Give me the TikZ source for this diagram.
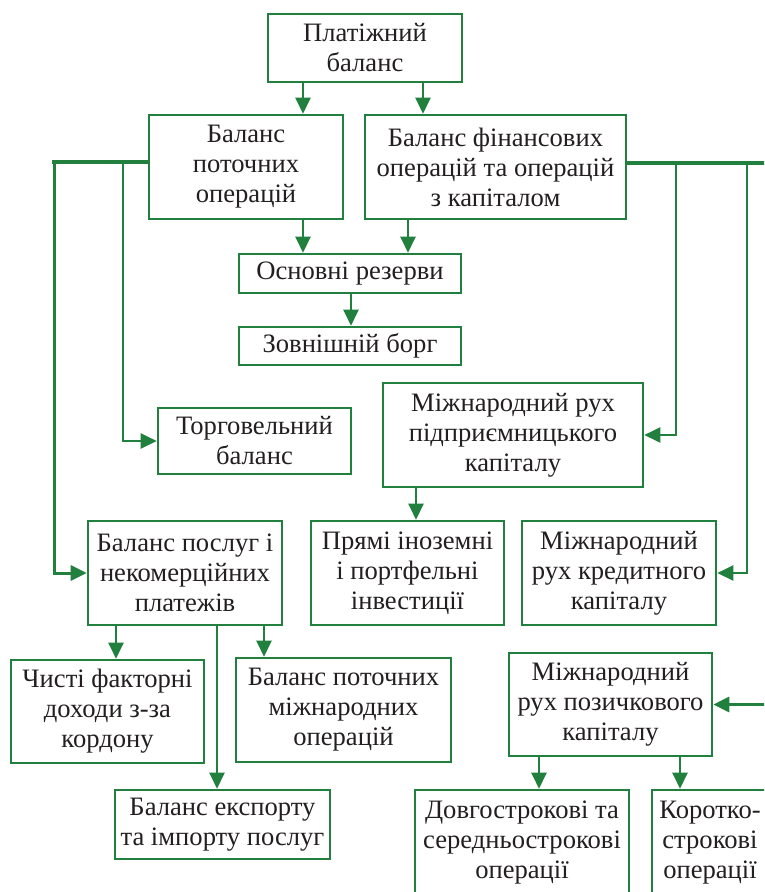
\documentclass[tikz,border=0pt]{standalone}
\usepackage{fontspec}
\setmainfont{Liberation Serif}
\usetikzlibrary{arrows.meta}
\definecolor{gr}{RGB}{34,128,62}
\definecolor{txt}{RGB}{35,31,32}
\begin{document}
\begin{tikzpicture}[x=1pt,y=-1pt,
  box/.style={draw=gr,line width=2.6pt,align=center,inner sep=0pt,text=txt,
    font=\fontsize{26.6}{30}\selectfont},
  arr/.style={draw=gr,line width=2.4pt,-{Triangle[length=16pt,width=15pt]}},
  trunk/.style={draw=gr,line width=3.2pt},
]
\clip (0,0) rectangle (764,892);
\fill[white] (0,0) rectangle (764,892);

\node[box,minimum width=194pt,minimum height=68pt] (pb) at (365,48) {Платіжний\\баланс};
\node[box,minimum width=194pt,minimum height=104pt] (bpo) at (246,167) {Баланс\\поточних\\операцій};
\node[box,minimum width=261pt,minimum height=104pt] (bfo) at (495.5,167) {Баланс фінансових\\операцій та операцій\\з капіталом};
\node[box,minimum width=222pt,minimum height=39pt] (or) at (350,273.5) {Основні резерви};
\node[box,minimum width=222pt,minimum height=38pt] (zb) at (350,346) {Зовнішній борг};
\node[box,minimum width=193pt,minimum height=66pt] (tb) at (254.5,441) {Торговельний\\баланс};
\node[box,minimum width=260pt,minimum height=104pt] (mpk) at (513,435) {Міжнародний рух\\підприємницького\\капіталу};
\node[box,minimum width=194pt,minimum height=104pt] (bpn) at (185,573) {Баланс послуг і\\некомерційних\\платежів};
\node[box,minimum width=193pt,minimum height=104pt] (pii) at (407.5,573) {Прямі іноземні\\і портфельні\\інвестиції};
\node[box,minimum width=194pt,minimum height=104pt] (mkk) at (619,573) {Міжнародний\\рух кредитного\\капіталу};
\node[box,minimum width=193pt,minimum height=103pt] (chf) at (107.5,711.5) {Чисті факторні\\доходи з-за\\кордону};
\node[box,minimum width=215pt,minimum height=104pt] (bpm) at (343.5,710) {Баланс поточних\\міжнародних\\операцій};
\node[box,minimum width=203pt,minimum height=103pt] (mpoz) at (610.5,704.5) {Міжнародний\\рух позичкового\\капіталу};
\node[box,minimum width=215pt,minimum height=69pt] (bei) at (222.5,824.5) {Баланс експорту\\та імпорту послуг};
\node[box,minimum width=214pt,minimum height=106pt] (dso) at (522,843) {Довгострокові та\\середньострокові\\операції};
\node[box,minimum width=116pt,minimum height=106pt] (kso) at (710,843) {Коротко-\\строкові\\операції};

% vertical arrows
\draw[arr] (303,0 |- pb.south) -- (303,0 |- bpo.north);
\draw[arr] (423,0 |- pb.south) -- (423,0 |- bfo.north);
\draw[arr] (303,0 |- bpo.south) -- (303,0 |- or.north);
\draw[arr] (408,0 |- bfo.south) -- (408,0 |- or.north);
\draw[arr] (351,0 |- or.south) -- (351,0 |- zb.north);
\draw[arr] (416,0 |- mpk.south) -- (416,0 |- pii.north);
\draw[arr] (116,0 |- bpn.south) -- (116,0 |- chf.north);
\draw[arr] (217,0 |- bpn.south) -- (217,0 |- bei.north);
\draw[arr] (264,0 |- bpn.south) -- (264,0 |- bpm.north);
\draw[arr] (539,0 |- mpoz.south) -- (539,0 |- dso.north);
\draw[arr] (680,0 |- mpoz.south) -- (680,0 |- kso.north);

% left trunk
\coordinate (L1) at (54,162);
\coordinate (L2) at (123,162);
\draw[trunk,line width=3.6pt] (bpo.west |- L1) -- (52.2,162);
\draw[arr,line width=3pt] (L1) |- (bpn.west);
\draw[arr] (L2) |- (tb.west);

% right trunk
\coordinate (R0) at (770,163);
\coordinate (R1) at (676,163);
\coordinate (R2) at (747,163);
\draw[trunk] (bfo.east |- R0) -- (R0);
\draw[arr] (R1) |- (mpk.east);
\draw[arr] (R2) |- (mkk.east);
\coordinate (R3) at (770,704.5);
\draw[arr,line width=3.2pt] (R3) -- (mpoz.east);
\end{tikzpicture}
\end{document}
